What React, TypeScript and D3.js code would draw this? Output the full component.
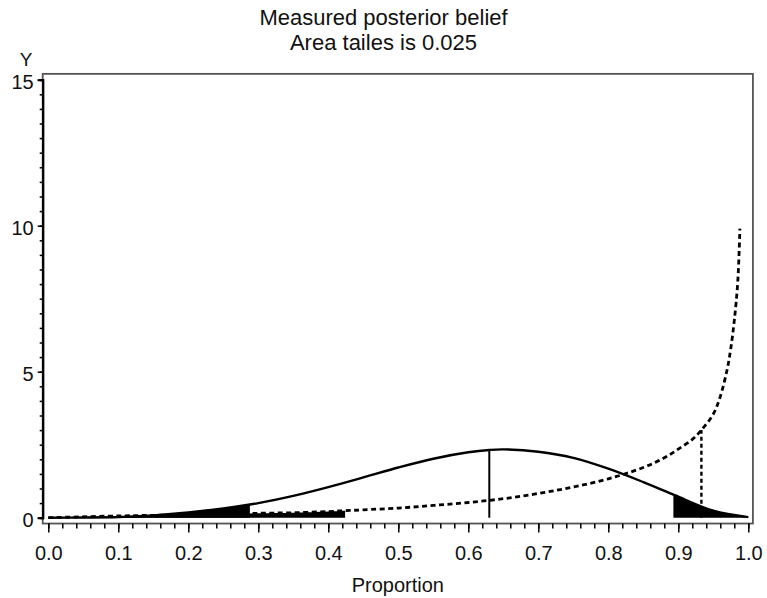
import React, { useEffect, useRef } from 'react';
import * as d3 from 'd3';

// values
const solidX = [0, 0.05, 0.1, 0.15, 0.2, 0.25, 0.288, 0.3, 0.35, 0.4, 0.45, 0.5, 0.55, 0.6, 0.63, 0.65, 0.7, 0.75, 0.8, 0.85, 0.893, 0.9, 0.95, 1.0];
const solidY = [0, 0.005, 0.02, 0.08, 0.18, 0.32, 0.45, 0.5, 0.75, 1.05, 1.38, 1.72, 2.02, 2.24, 2.32, 2.34, 2.26, 2.05, 1.68, 1.22, 0.79, 0.72, 0.24, 0.02];

const dashX = [0, 0.1, 0.2, 0.3, 0.35, 0.4, 0.424, 0.45, 0.5, 0.55, 0.6, 0.65, 0.7, 0.75, 0.8, 0.85, 0.88, 0.9, 0.92, 0.933, 0.95, 0.96, 0.97, 0.975, 0.98, 0.985, 0.988];
const dashY = [0, 0.06, 0.1, 0.15, 0.17, 0.21, 0.24, 0.27, 0.33, 0.42, 0.52, 0.65, 0.83, 1.05, 1.33, 1.72, 2.05, 2.35, 2.68, 3.0, 3.55, 4.15, 5.1, 5.8, 6.75, 8.1, 9.9];

const solidLeftTail = 0.288;
const solidRightTail = 0.893;
const solidMarker = 0.63;
const dashLeftTail = 0.424;
const dashMarker = 0.933;

const xMajor = [0, 0.1, 0.2, 0.3, 0.4, 0.5, 0.6, 0.7, 0.8, 0.9, 1.0];
const yMajor = [0, 5, 10, 15];

const titleLines = ['Measured posterior belief', 'Area tailes is 0.025'];

const W = 767;
const H = 598;
const font = '"Liberation Sans", Arial, Helvetica, sans-serif';

const App = () => {
  const ref = useRef<SVGSVGElement>(null);

  useEffect(() => {
    const svg = d3.select(ref.current);
    svg.selectAll('*').remove();

    const x = d3.scaleLinear().domain([0, 1]).range([48.3, 748.3]);
    const y = d3.scaleLinear().domain([0, 15]).range([517.7, 79.7]);
    const left = x(-0.008), right = x(1.0066), top = y(15.2), bottom = y(-0.2);

    const solid = solidX.map((d, i) => [d, solidY[i]] as [number, number]);
    const dashed = dashX.map((d, i) => [d, dashY[i]] as [number, number]);

    const curve = d3.curveCatmullRom.alpha(0.5);
    const line = d3.line<[number, number]>().x(d => x(d[0])).y(d => y(d[1])).curve(curve);
    const area = d3.area<[number, number]>().x(d => x(d[0])).y0(y(0)).y1(d => y(d[1])).curve(curve);

    // black tail areas
    svg.append('path').attr('d', area(dashed.filter(d => d[0] <= dashLeftTail))).attr('fill', '#000');
    svg.append('path').attr('d', area(solid.filter(d => d[0] <= solidLeftTail))).attr('fill', '#000');
    svg.append('path').attr('d', area(solid.filter(d => d[0] >= solidRightTail))).attr('fill', '#000');

    // curves
    svg.append('path').attr('d', line(solid)).attr('fill', 'none').attr('stroke', '#000').attr('stroke-width', 2.4);
    svg.append('path').attr('d', line(dashed)).attr('fill', 'none').attr('stroke', '#000')
      .attr('stroke-width', 2.8).attr('stroke-dasharray', '5,3.5');

    // marker lines
    const sm = solidY[solidX.indexOf(solidMarker)];
    svg.append('line').attr('x1', x(solidMarker)).attr('x2', x(solidMarker)).attr('y1', y(0)).attr('y2', y(sm))
      .attr('stroke', '#000').attr('stroke-width', 2);
    const dm = dashY[dashX.indexOf(dashMarker)];
    svg.append('line').attr('x1', x(dashMarker)).attr('x2', x(dashMarker)).attr('y1', y(0)).attr('y2', y(dm))
      .attr('stroke', '#000').attr('stroke-width', 2.4).attr('stroke-dasharray', '4,3');

    // frame
    svg.append('rect').attr('x', left).attr('y', top).attr('width', right - left).attr('height', bottom - top)
      .attr('fill', 'none').attr('stroke', '#555').attr('stroke-width', 1.8);

    // y axis
    const yMinor = d3.range(0, 15.01, 0.5);
    const yMinorAxis = d3.axisLeft(y).tickValues(yMinor).tickSize(3).tickFormat(() => '');
    const gyMinor = svg.append('g').attr('transform', `translate(${left},0)`).call(yMinorAxis);
    const yAxis = d3.axisLeft(y).tickValues(yMajor).tickSize(5).tickPadding(4).tickFormat(d3.format('d'));
    const gy = svg.append('g').attr('transform', `translate(${left},0)`).call(yAxis);
    [gyMinor, gy].forEach(g => {
      g.select('.domain').attr('stroke', '#000').attr('stroke-width', 2);
      g.selectAll('.tick line').attr('stroke', '#000').attr('stroke-width', 1.5);
    });
    gy.selectAll('text').attr('font-family', font).attr('font-size', 20).attr('fill', '#111').attr('dy', '0.45em');

    // x axis
    const xMinor = d3.range(0, 1.001, 0.02);
    const xMinorAxis = d3.axisBottom(x).tickValues(xMinor).tickSize(5).tickFormat(() => '');
    const gxMinor = svg.append('g').attr('transform', `translate(0,${bottom})`).call(xMinorAxis);
    const xAxis = d3.axisBottom(x).tickValues(xMajor).tickSize(9).tickPadding(13).tickFormat(d3.format('.1f'));
    const gx = svg.append('g').attr('transform', `translate(0,${bottom})`).call(xAxis);
    [gxMinor, gx].forEach(g => {
      g.select('.domain').remove();
      g.selectAll('.tick line').attr('stroke', '#000').attr('stroke-width', 1.5);
    });
    gx.selectAll('text').attr('font-family', font).attr('font-size', 20).attr('fill', '#111');

    // labels
    svg.append('text').attr('x', (left + right) / 2).attr('y', 592).attr('text-anchor', 'middle')
      .attr('font-family', font).attr('font-size', 20).attr('fill', '#111').text('Proportion');
    svg.append('text').attr('x', 26).attr('y', 66).attr('text-anchor', 'middle')
      .attr('font-family', font).attr('font-size', 19).attr('fill', '#111').text('Y');
    titleLines.forEach((t, i) => {
      svg.append('text').attr('x', W / 2).attr('y', 25 + i * 25).attr('text-anchor', 'middle')
        .attr('font-family', font).attr('font-size', 22).attr('fill', '#111').text(t);
    });
  }, []);

  return (
    <svg ref={ref} width={W} height={H} style={{ position: 'absolute', left: 0, top: 0, background: '#fff' }} />
  );
};

export default App;
